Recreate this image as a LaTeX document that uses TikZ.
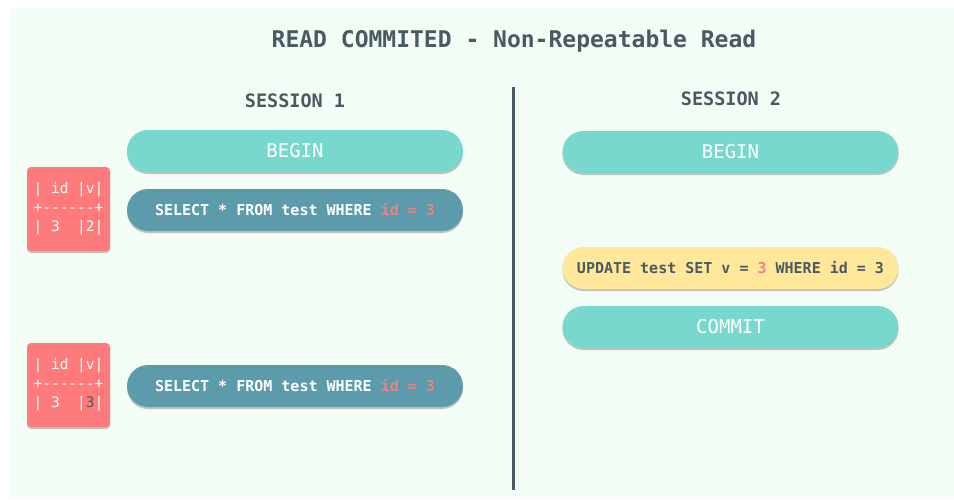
\documentclass[tikz,border=0pt]{standalone}
\usepackage{fontspec}
\newfontfamily\mono{DejaVu Sans Mono}
\usetikzlibrary{shadows}
\definecolor{bgmint}{HTML}{F3FCF5}
\definecolor{slate}{HTML}{4A5A63}
\definecolor{beginc}{HTML}{79D8CD}
\definecolor{selectc}{HTML}{5B9BAB}
\definecolor{updatec}{HTML}{FFE89A}
\definecolor{tablec}{HTML}{FF7B7B}
\definecolor{pinkc}{HTML}{F47F7F}
\begin{document}
\begin{tikzpicture}[x=1pt,y=-1pt,
  shade/.style={drop shadow={shadow xshift=0pt,shadow yshift=-2pt,opacity=0.22,fill=black}},
  pill/.style={shade,rounded corners=21pt,minimum width=336pt,minimum height=42pt,inner sep=0pt},
  beginbox/.style={pill,fill=beginc,text=white,font=\mono\fontsize{19}{22}\selectfont},
  selectbox/.style={pill,fill=selectc,text=white,font=\mono\bfseries\fontsize{15}{18}\selectfont},
  updatebox/.style={pill,fill=updatec,text=slate,font=\mono\bfseries\fontsize{15}{18}\selectfont},
  tablebox/.style={shade,fill=tablec,text=white,rounded corners=4pt,minimum width=83pt,minimum height=84pt,inner sep=0pt,align=left,font=\mono\fontsize{14.5}{19}\selectfont},
  sessionlabel/.style={text=slate,font=\mono\bfseries\fontsize{18.5}{22}\selectfont},
  titlelabel/.style={text=slate,font=\mono\bfseries\fontsize{23}{27}\selectfont}
]
\useasboundingbox (0,0) rectangle (954,499);
\fill[white] (0,0) rectangle (954,499);
\fill[bgmint] (10,8) rectangle (954,499);

\node[titlelabel] (title) at (514,41) {READ COMMITED - Non-Repeatable Read};
\node[sessionlabel] (s1) at (295,101) {SESSION 1};
\node[sessionlabel] (s2) at (731,99) {SESSION 2};

\coordinate (divtop) at (513.5,87);
\coordinate (divbot) at (513.5,490);
\draw[slate,line width=3pt] (divtop) -- (divbot);

\node[beginbox] (begin1) at (295,151) {BEGIN};
\node[selectbox] (sel1) at (295,210) {SELECT * FROM test WHERE \textcolor{pinkc}{id = 3}};
\node[selectbox] (sel2) at (295,386) {SELECT * FROM test WHERE \textcolor{pinkc}{id = 3}};

\node[tablebox] (tab1) at (68.5,209) {|~id~|v|\\+{-}{-}{-}{-}{-}{-}+\\|~3~~|2|};
\node[tablebox] (tab2) at (68.5,385) {|~id~|v|\\+{-}{-}{-}{-}{-}{-}+\\|~3~~|\textcolor{slate}{3}|};

\node[beginbox] (begin2) at (730.5,152) {BEGIN};
\node[updatebox] (upd) at (730.5,268) {UPDATE test SET v = \textcolor{pinkc}{3} WHERE id = 3};
\node[beginbox] (commit) at (730.5,327) {COMMIT};
\end{tikzpicture}
\end{document}
